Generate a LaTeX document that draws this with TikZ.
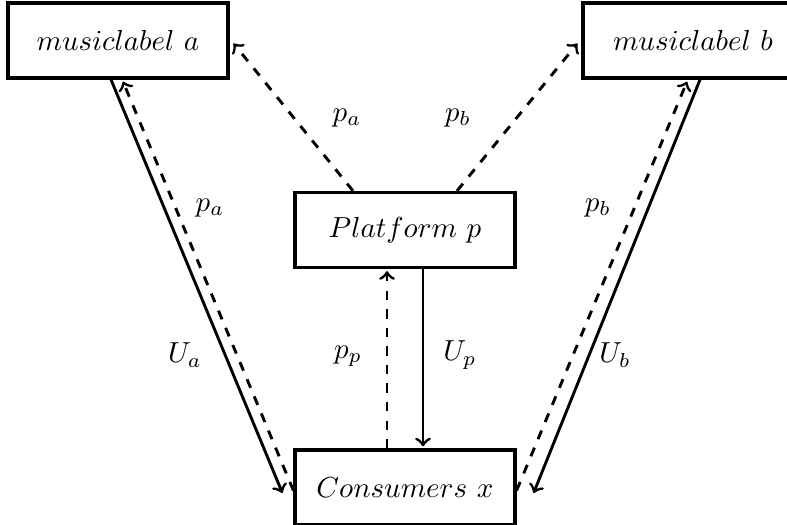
\documentclass[tikz,border=0pt]{standalone}
\usetikzlibrary{calc}
\begin{document}
\begin{tikzpicture}[x=0.345pt,y=-0.345pt,
  box/.style={draw,line width=1.1pt,rectangle,minimum width=75.9pt,minimum height=25.9pt,inner sep=0pt},
  sol/.style={->,line width=1pt},
  dsh/.style={->,dash pattern=on 3.2pt off 3.2pt,line width=1pt},
  lbl/.style={inner sep=0pt}]
\clip (0,0) rectangle (787,524);
\node[box] (ma) at (118,40.5) {$musiclabel\ a$};
\node[box] (mb) at (693,40.5) {$musiclabel\ b$};
\node[box] (pl) at (405,230) {$Platform\ p$};
\node[box] (cx) at (405,487.5) {$Consumers\ x$};
\draw[sol] ($(ma.south)+(-7,0)$) -- ($(cx.west)+(-11,5.5)$);
\draw[dsh] ($(cx.west)+(0,3)$) -- ($(ma.south)+(5,2)$);
\draw[dsh] ($(pl.north)+(-52,0)$) -- ($(ma.east)+(4,3)$);
\draw[dsh] ($(pl.north)+(52,0)$) -- ($(mb.west)+(-4,3)$);
\draw[sol] ($(mb.south)+(7,0)$) -- ($(cx.east)+(17,5.5)$);
\draw[dsh] ($(cx.east)+(0,3)$) -- ($(mb.south)+(-6,2)$);
\draw[dsh] ($(cx.north)+(-18,0)$) -- ($(pl.south)+(-18,2)$);
\draw[sol] ($(pl.south)+(18,0)$) -- ($(cx.north)+(18,-2)$);
\node[lbl] (l1) at (347,118) {$p_a$};
\node[lbl] (l2) at (458,118) {$p_b$};
\node[lbl] (l3) at (210,208) {$p_a$};
\node[lbl] (l4) at (598,208) {$p_b$};
\node[lbl] (l5) at (185,355) {$U_a$};
\node[lbl] (l6) at (348,356) {$p_p$};
\node[lbl] (l7) at (460,355) {$U_p$};
\node[lbl] (l8) at (615,355) {$U_b$};
\end{tikzpicture}
\end{document}
